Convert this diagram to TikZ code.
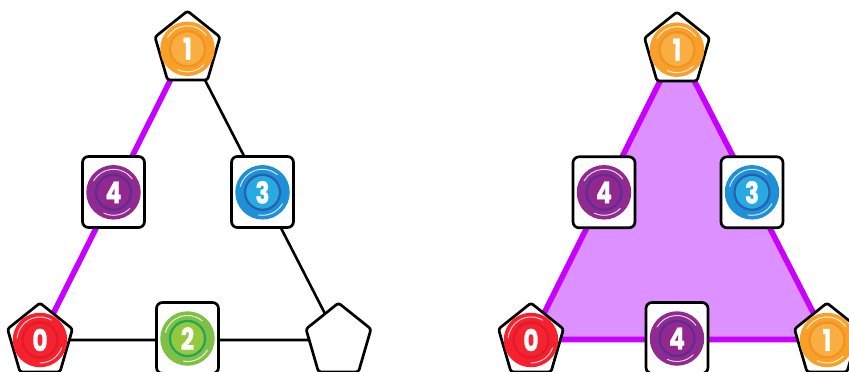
\documentclass[tikz,border=0pt]{standalone}
\usepackage{fontspec}
\setmainfont{Poppins}
\newfontfamily\digitfont{Poppins Bold}[FakeBold=1.2]
\definecolor{edgepurple}{HTML}{C800FF}
\definecolor{facepurple}{HTML}{DD90FF}
\definecolor{cOrange}{HTML}{F9AE42}\definecolor{rOrange}{HTML}{F39220}\definecolor{oOrange}{HTML}{F9A02B}
\definecolor{cRed}{HTML}{F5222F}\definecolor{rRed}{HTML}{DE1C2C}\definecolor{oRed}{HTML}{F9202E}
\definecolor{cPurple}{HTML}{92278F}\definecolor{rPurple}{HTML}{5F2D91}\definecolor{oPurple}{HTML}{8E2A90}
\definecolor{cBlue}{HTML}{27AAE1}\definecolor{rBlue}{HTML}{2B5FAE}\definecolor{oBlue}{HTML}{1E90D8}
\definecolor{cGreen}{HTML}{95C93D}\definecolor{rGreen}{HTML}{1FA65A}\definecolor{oGreen}{HTML}{7FBF45}
\tikzset{
  plainedge/.style={black,line width=2.6pt},
  markededge/.style={edgepurple,line width=5.6pt},
  outline/.style={draw=black,fill=white,line width=2.7pt,line join=round},
  squarebox/.style={outline,rectangle,rounded corners=6pt,minimum width=62pt,minimum height=71pt,inner sep=0pt},
  disc/.style={circle,minimum size=54.5pt,inner sep=0pt,fill=#1},
  shine/.style={white,opacity=.8,line width=1pt,line cap=round},
  digit/.style={text=white,inner sep=0pt},
}
\newcommand{\pentagonat}[1]{%
  \draw[outline,rounded corners=2.5pt,shift={(#1)}]
    (0,-35)--(32.5,-9)--(20,34)--(-20,34)--(-32.5,-9)--cycle;}
\newcommand{\coinat}[5]{% name, position, colour stem, digit, highlight angle
  \node[disc=o#3] (#1) at (#2) {};
  \fill[c#3] (#2) circle (17.5pt);
  \draw[r#3,line width=2.2pt] (#2) circle (17.5pt);
  \draw[shine] (#2) ++(#5:23pt) arc[start angle=#5,delta angle=115,radius=23pt];
  \draw[shine] (#2) ++(#5+210:23pt) arc[start angle=#5+210,delta angle=70,radius=23pt];
  \node[digit] at (#2) {\scalebox{.78}[1]{\digitfont\fontsize{30}{30}\selectfont #4}};}
\begin{document}
\begin{tikzpicture}[x=1pt,y=-1pt]
\useasboundingbox (0,0) rectangle (849,372);
\clip (0,0) rectangle (849,372);
% left triangle
\coordinate (LA) at (187.5,46);
\coordinate (LB) at (40,338);
\coordinate (LC) at (338.5,338);
\coordinate (LD) at (113.5,192);
\coordinate (LE) at (262.5,192);
\coordinate (LF) at (187.5,338);
\coordinate (LB2) at (40,340);
\coordinate (LC2) at (338.5,340);
\draw[markededge] (LA) -- (LB2);
\draw[plainedge] (LA) -- (LC2) (LB2) -- (LC2);
\pentagonat{LA}\pentagonat{LB}\pentagonat{LC}
\node[squarebox] at (LD) {};
\node[squarebox] at (LE) {};
\node[squarebox] at (LF) {};
\coinat{lcA}{187.5,48.8}{Orange}{1}{35}
\coinat{lcB}{40,340}{Red}{0}{60}
\coinat{lcD}{113.5,192.3}{Purple}{4}{35}
\coinat{lcE}{262.5,192.3}{Blue}{3}{50}
\coinat{lcF}{187.5,338.5}{Green}{2}{50}
% right triangle
\coordinate (RA) at (677,47);
\coordinate (RB) at (531,338);
\coordinate (RC) at (827,338);
\coordinate (RD) at (604,192.3);
\coordinate (RE) at (752,192.3);
\coordinate (RF) at (677,338);
\coordinate (RB2) at (531,339.5);
\coordinate (RC2) at (827,339.5);
\fill[facepurple] (RA) -- (RB2) -- (RC2) -- cycle;
\draw[markededge,line join=round] (RA) -- (RB2) -- (RC2) -- cycle;
\pentagonat{RA}\pentagonat{RB}\pentagonat{RC}
\node[squarebox] at (RD) {};
\node[squarebox] at (RE) {};
\node[squarebox] at (RF) {};
\coinat{rcA}{677,49.7}{Orange}{1}{35}
\coinat{rcB}{531,340}{Red}{0}{60}
\coinat{rcC}{827,340}{Orange}{1}{35}
\coinat{rcD}{604,192.3}{Purple}{4}{35}
\coinat{rcE}{752,192.3}{Blue}{3}{50}
\coinat{rcF}{677,338.5}{Purple}{4}{35}
\end{tikzpicture}
\end{document}
